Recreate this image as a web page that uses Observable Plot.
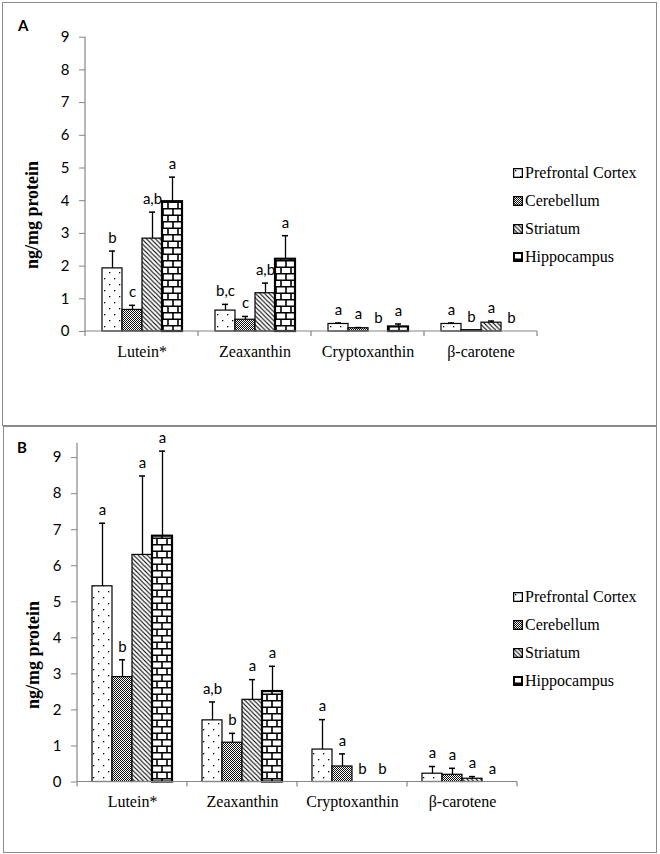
<!DOCTYPE html>
<html><head><meta charset="utf-8">
<script src="https://cdn.jsdelivr.net/npm/d3@7"></script>
<script src="https://cdn.jsdelivr.net/npm/@observablehq/plot@0.6"></script>
<style>
body{margin:0;background:#fff;}
#root{position:relative;width:660px;height:854px;overflow:hidden;background:#fff;}
.box{position:absolute;border:1.5px solid #8a8a8a;box-sizing:border-box;}
.plot{position:absolute;left:0;}
.ytitle{position:absolute;font-family:"Liberation Serif";font-weight:bold;font-size:18px;transform:translate(-50%,-50%) rotate(-90deg);white-space:nowrap;}
.plabel{position:absolute;font-family:Lato;font-weight:bold;font-size:15px;line-height:15px;}
.legend{position:absolute;font-family:"Liberation Serif";font-size:16px;color:#000;}
.legend .row{height:28px;display:flex;align-items:center;white-space:nowrap;}
.legend span{font-family:"Liberation Serif";font-size:16px;}
.legend svg{margin-right:2px;}
</style>
</head><body>
<svg width="0" height="0" style="position:absolute">
<defs>
<pattern id="pat-pc" width="10" height="12" patternUnits="userSpaceOnUse">
<rect width="10" height="12" fill="#fff"/>
<rect x="2" y="2" width="1.3" height="1.3" fill="#000"/>
<rect x="7" y="8" width="1.3" height="1.3" fill="#000"/>
</pattern>
<pattern id="pat-cb" width="2" height="2" patternUnits="userSpaceOnUse">
<rect width="2" height="2" fill="#fff"/>
<rect x="0" y="0" width="1" height="1" fill="#111"/>
<rect x="1" y="1" width="1" height="1" fill="#111"/>
</pattern>
<pattern id="pat-st" width="4.5" height="4.5" patternUnits="userSpaceOnUse">
<rect width="4.5" height="4.5" fill="#fff"/>
<path d="M-1,-1L5.5,5.5M-1,3.5L1,5.5M3.5,-1L5.5,1" stroke="#000" stroke-width="1.1"/>
</pattern>
<pattern id="pat-hc" width="10" height="13" patternUnits="userSpaceOnUse">
<rect width="10" height="13" fill="#fff"/>
<path d="M0,0.8H10M0,7.3H10M1,0.8V7.3M6,7.3V13.8" stroke="#000" stroke-width="1.6"/>
</pattern>
</defs>
</svg>
<div id="root">
  <div class="box" style="left:2px;top:2px;width:655px;height:424px"></div>
  <div class="box" style="left:3px;top:426px;width:654px;height:427px"></div>
  <div id="plotA" class="plot" style="top:0px"></div>
  <div id="plotB" class="plot" style="top:427px"></div>
  <div class="plabel" style="left:18px;top:18px">A</div>
  <div class="plabel" style="left:17px;top:440px">B</div>
  <div class="ytitle" style="left:32px;top:215px">ng/mg protein</div>
  <div class="ytitle" style="left:33px;top:655px">ng/mg protein</div>
  <div id="legendA" class="legend" style="left:513px;top:159px"></div>
  <div id="legendB" class="legend" style="left:513px;top:583px"></div>
</div>
<script>
// ---- data ----
const categories = ["Lutein*", "Zeaxanthin", "Cryptoxanthin", "β-carotene"];
const tissues = ["Prefrontal Cortex", "Cerebellum", "Striatum", "Hippocampus"];
const yTicks = [0, 1, 2, 3, 4, 5, 6, 7, 8, 9];

// Panel A: one row per tissue, values per category
const meansA = [
  [1.93, 0.64, 0.23, 0.23],
  [0.66, 0.36, 0.10, 0.04],
  [2.84, 1.17, 0.00, 0.27],
  [3.97, 2.21, 0.14, 0.00]
];
const errA = [
  [0.53, 0.19, 0.03, 0.03],
  [0.14, 0.10, 0.02, 0.00],
  [0.81, 0.31, 0.00, 0.05],
  [0.75, 0.72, 0.09, 0.00]
];
const sigA = [
  ["b", "b,c", "a", "a"],
  ["c", "c", "a", "b"],
  ["a,b", "a,b", "b", "a"],
  ["a", "a", "a", "b"]
];

// Panel B
const meansB = [
  [5.43, 1.71, 0.90, 0.23],
  [2.91, 1.09, 0.43, 0.20],
  [6.30, 2.28, 0.00, 0.09],
  [6.82, 2.51, 0.00, 0.00]
];
const errB = [
  [1.75, 0.51, 0.83, 0.20],
  [0.48, 0.26, 0.35, 0.18],
  [2.19, 0.56, 0.00, 0.06],
  [2.36, 0.70, 0.00, 0.00]
];
const sigB = [
  ["a", "a,b", "a", "a"],
  ["b", "b", "a", "a"],
  ["a", "a", "b", "a"],
  ["a", "a", "b", "a"]
];

const patterns = ["url(#pat-pc)", "url(#pat-cb)", "url(#pat-st)", "url(#pat-hc)"];
const axisGray = "#868686";
const serif = "Liberation Serif";

function rowsOf(means, errs, sigs) {
  const rows = [];
  tissues.forEach((t, ti) => categories.forEach((c, ci) => {
    rows.push({tissue: t, cat: c, value: means[ti][ci], err: errs[ti][ci], sig: sigs[ti][ci]});
  }));
  return rows;
}

function panel(el, means, errs, sigs, yMax, m) {
  const rows = rowsOf(means, errs, sigs);
  const withErr = rows.filter(d => d.err > 0);
  const plot = Plot.plot({
    width: 660, height: 425,
    marginLeft: m.left, marginRight: m.right, marginTop: m.top, marginBottom: m.bottom,
    style: {fontFamily: "Lato", fontSize: "15px", background: "transparent", color: "#000", overflow: "visible"},
    fx: {domain: categories, padding: 0},
    x: {domain: tissues, paddingInner: 0, paddingOuter: 0.7, axis: null},
    y: {domain: [0, yMax]},
    color: {domain: tissues, range: patterns},
    marks: [
      Plot.axisY({ticks: yTicks, tickFormat: d => String(d), tickSize: 6, tickPadding: 10,
        stroke: axisGray, fill: "#000", fontSize: 15, fontFamily: "Lato", label: null}),
      Plot.axisFx({anchor: "bottom", tickSize: 0, tickPadding: 14, fontSize: 16,
        fontFamily: serif, fill: "#000", label: null}),
      Plot.barY(rows.filter(d => d.tissue !== "Hippocampus"),
        {fx: "cat", x: "tissue", y: "value", fill: "tissue", stroke: "#000", strokeWidth: 1.2}),
      Plot.barY(rows.filter(d => d.tissue === "Hippocampus"),
        {fx: "cat", x: "tissue", y: "value", fill: "tissue", stroke: "#000", strokeWidth: 2.2}),
      Plot.ruleX(withErr, {fx: "cat", x: "tissue", y1: d => d.value, y2: d => d.value + d.err,
        stroke: "#000", strokeWidth: 1.3}),
      Plot.tickY(withErr, {fx: "cat", x: "tissue", y: d => d.value + d.err,
        insetLeft: 7, insetRight: 7, stroke: "#000", strokeWidth: 1.5}),
      Plot.text(rows, {fx: "cat", x: "tissue", y: d => d.value + d.err, text: "sig",
        dy: -13, fontSize: 15, fontFamily: "Lato", fill: "#000"})
    ]
  });
  el.appendChild(plot);
  // force the serif face on the category labels
  d3.select(plot).selectAll('g[aria-label^="fx-axis"] text, g[aria-label^="fx-axis"]')
    .attr("font-family", serif).attr("font-size", 16).style("font-family", serif).style("font-size", "16px");
  // axis lines and category boundary ticks, through the plot's own scales
  const fx = plot.scale("fx"), y = plot.scale("y");
  const y0 = y.apply(0), yTop = y.apply(yMax);
  const xs = categories.map(c => fx.apply(c));
  const xEnd = xs[xs.length - 1] + fx.bandwidth;
  const g = d3.select(plot).append("g").attr("stroke", axisGray).attr("stroke-width", 1.2);
  g.append("line").attr("x1", xs[0]).attr("x2", xs[0]).attr("y1", y0).attr("y2", yTop);
  g.append("line").attr("x1", xs[0]).attr("x2", xEnd).attr("y1", y0).attr("y2", y0);
  [...xs, xEnd].forEach(x => g.append("line").attr("x1", x).attr("x2", x).attr("y1", y0).attr("y2", y0 + 5));
}

panel(document.getElementById("plotA"), meansA, errA, sigA, 9, {left: 83, right: 122, top: 36.7, bottom: 94});
panel(document.getElementById("plotB"), meansB, errB, sigB, 9.4, {left: 76, right: 142, top: 15.7, bottom: 70.5});

function legend(el) {
  tissues.forEach((t, i) => {
    const row = document.createElement("div");
    row.className = "row";
    const sw = i === 3 ? 2 : 1.3;
    row.innerHTML = `<svg width="10" height="10"><rect x="${sw/2}" y="${sw/2}" width="${10-sw}" height="${10-sw}" fill="${patterns[i]}" stroke="#000" stroke-width="${sw}"/></svg><span>${t}</span>`;
    el.appendChild(row);
  });
}
legend(document.getElementById("legendA"));
legend(document.getElementById("legendB"));
</script>
</body></html>
